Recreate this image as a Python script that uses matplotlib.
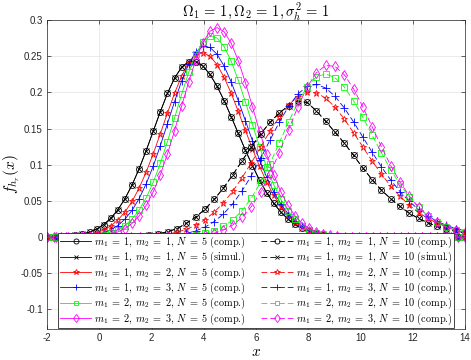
import numpy as np
import matplotlib
matplotlib.use("Agg")
import matplotlib.pyplot as plt
from matplotlib.ticker import FixedLocator, FixedFormatter

plt.rcParams["mathtext.fontset"] = "cm"
plt.rcParams["font.family"] = ["Liberation Sans", "DejaVu Sans"]

# Abtastgitter (N = 5 bzw. N = 10)
x5 = np.linspace(-2, 14, 60)
x10 = np.linspace(-2, 14, 46)

# N = 5
f5_m11 = [0.0002, 0.0004, 0.0007, 0.0014, 0.0024, 0.0042, 0.0069, 0.0111, 0.0173, 0.0260,
          0.0377, 0.0530, 0.0719, 0.0943, 0.1196, 0.1465, 0.1734, 0.1986, 0.2196, 0.2348,
          0.2426, 0.2426, 0.2365, 0.2248, 0.2085, 0.1886, 0.1664, 0.1432, 0.1202, 0.0986,
          0.0787, 0.0613, 0.0466, 0.0346, 0.0250, 0.0176, 0.0121, 0.0081, 0.0053, 0.0034,
          0.0021, 0.0013, 0.0008, 0.0004, 0.0002, 0.0001, 0, 0, 0, 0,
          0, 0, 0, 0, 0, 0, 0, 0, 0, 0]
f5_m12 = [0.0001, 0.0002, 0.0003, 0.0006, 0.0011, 0.0021, 0.0036, 0.0060, 0.0098, 0.0155,
          0.0236, 0.0347, 0.0492, 0.0677, 0.0899, 0.1153, 0.1430, 0.1714, 0.1986, 0.2225,
          0.2409, 0.2520, 0.2549, 0.2501, 0.2383, 0.2207, 0.1986, 0.1737, 0.1476, 0.1219,
          0.0977, 0.0762, 0.0577, 0.0425, 0.0304, 0.0211, 0.0143, 0.0094, 0.0060, 0.0037,
          0.0022, 0.0013, 0.0007, 0.0004, 0.0002, 0.0001, 0, 0, 0, 0,
          0, 0, 0, 0, 0, 0, 0, 0, 0, 0]
f5_m13 = [0.0000, 0.0001, 0.0001, 0.0003, 0.0005, 0.0010, 0.0019, 0.0035, 0.0060, 0.0100,
          0.0160, 0.0248, 0.0369, 0.0531, 0.0736, 0.0983, 0.1264, 0.1567, 0.1872, 0.2156,
          0.2392, 0.2558, 0.2635, 0.2621, 0.2527, 0.2363, 0.2143, 0.1885, 0.1609, 0.1331,
          0.1067, 0.0831, 0.0627, 0.0459, 0.0326, 0.0224, 0.0150, 0.0097, 0.0061, 0.0037,
          0.0022, 0.0013, 0.0007, 0.0004, 0.0002, 0.0001, 0, 0, 0, 0,
          0, 0, 0, 0, 0, 0, 0, 0, 0, 0]
f5_m22 = [0.0000, 0.0000, 0.0000, 0.0001, 0.0002, 0.0005, 0.0009, 0.0018, 0.0033, 0.0057,
          0.0097, 0.0158, 0.0248, 0.0373, 0.0543, 0.0759, 0.1020, 0.1321, 0.1645, 0.1973,
          0.2276, 0.2527, 0.2700, 0.2777, 0.2752, 0.2632, 0.2431, 0.2169, 0.1868, 0.1554,
          0.1247, 0.0967, 0.0724, 0.0524, 0.0366, 0.0246, 0.0160, 0.0101, 0.0061, 0.0036,
          0.0020, 0.0011, 0.0006, 0.0003, 0.0001, 0, 0, 0, 0, 0,
          0, 0, 0, 0, 0, 0, 0, 0, 0, 0]
f5_m23 = [0.0000, 0.0000, 0.0000, 0.0001, 0.0001, 0.0003, 0.0006, 0.0012, 0.0023, 0.0041,
          0.0071, 0.0118, 0.0189, 0.0293, 0.0437, 0.0626, 0.0864, 0.1148, 0.1469, 0.1810,
          0.2146, 0.2448, 0.2689, 0.2844, 0.2895, 0.2838, 0.2679, 0.2437, 0.2135, 0.1801,
          0.1463, 0.1145, 0.0863, 0.0627, 0.0439, 0.0295, 0.0191, 0.0120, 0.0072, 0.0042,
          0.0023, 0.0013, 0.0006, 0.0003, 0.0001, 0, 0, 0, 0, 0,
          0, 0, 0, 0, 0, 0, 0, 0, 0, 0]

# N = 10
f10_m11 = [0, 0, 0, 0, 0, 0.0001, 0.0002, 0.0003, 0.0006, 0.0011,
           0.0018, 0.0029, 0.0046, 0.0075, 0.0117, 0.0190, 0.0275, 0.0385, 0.0520, 0.0680,
           0.0860, 0.1055, 0.1245, 0.1425, 0.1585, 0.1715, 0.1815, 0.1880, 0.1860, 0.1745,
           0.1600, 0.1450, 0.1300, 0.1130, 0.0955, 0.0795, 0.0650, 0.0530, 0.0425, 0.0330,
           0.0258, 0.0198, 0.0148, 0.0108, 0.0078, 0.0056]
f10_m12 = [0, 0, 0, 0, 0, 0, 0.0001, 0.0001, 0.0002, 0.0004,
           0.0008, 0.0014, 0.0025, 0.0042, 0.0068, 0.0107, 0.0163, 0.0241, 0.0344, 0.0475,
           0.0634, 0.0821, 0.1028, 0.1246, 0.1462, 0.1660, 0.1825, 0.1942, 0.2000, 0.1993,
           0.1921, 0.1797, 0.1632, 0.1443, 0.1246, 0.1052, 0.0870, 0.0705, 0.0562, 0.0441,
           0.0341, 0.0259, 0.0195, 0.0145, 0.0106, 0.0077]
f10_m13 = [0, 0, 0, 0, 0, 0, 0, 0, 0, 0.0001,
           0.0002, 0.0004, 0.0008, 0.0016, 0.0029, 0.0051, 0.0085, 0.0138, 0.0214, 0.0321,
           0.0461, 0.0639, 0.0849, 0.1088, 0.1339, 0.1585, 0.1805, 0.1977, 0.2082, 0.2110,
           0.2060, 0.1947, 0.1785, 0.1592, 0.1382, 0.1173, 0.0972, 0.0789, 0.0630, 0.0494,
           0.0381, 0.0290, 0.0218, 0.0162, 0.0118, 0.0086]
f10_m22 = [0, 0, 0, 0, 0, 0, 0, 0, 0, 0,
           0, 0.0001, 0.0001, 0.0003, 0.0007, 0.0014, 0.0027, 0.0050, 0.0088, 0.0148,
           0.0238, 0.0367, 0.0539, 0.0758, 0.1015, 0.1301, 0.1590, 0.1861, 0.2077, 0.2214,
           0.2255, 0.2203, 0.2074, 0.1885, 0.1657, 0.1410, 0.1164, 0.0932, 0.0728, 0.0552,
           0.0409, 0.0295, 0.0209, 0.0144, 0.0097, 0.0065]
f10_m23 = [0, 0, 0, 0, 0, 0, 0, 0, 0, 0,
           0, 0, 0.0001, 0.0001, 0.0003, 0.0007, 0.0015, 0.0029, 0.0054, 0.0098,
           0.0167, 0.0272, 0.0421, 0.0621, 0.0872, 0.1167, 0.1483, 0.1797, 0.2071, 0.2271,
           0.2372, 0.2359, 0.2245, 0.2050, 0.1800, 0.1525, 0.1248, 0.0989, 0.0762, 0.0569,
           0.0415, 0.0295, 0.0205, 0.0139, 0.0093, 0.0061]

m_pairs = [(1, 1), (1, 1), (1, 2), (1, 3), (2, 2), (2, 3)]
kinds = ["comp.", "simul.", "comp.", "comp.", "comp.", "comp."]
series5 = [f5_m11, f5_m11, f5_m12, f5_m13, f5_m22, f5_m23]
series10 = [f10_m11, f10_m11, f10_m12, f10_m13, f10_m22, f10_m23]

colors = ["k", "k", "#ff0000", "#0000ff", "#00ff00", "#ff00ff"]
markers = ["o", "x", "*", "+", "s", "d"]
msizes = [4.3, 4.0, 5.0, 5.5, 3.8, 5.0]

xticks = [-2, 0, 2, 4, 6, 8, 10, 12, 14]
yticks = [-0.1, -0.05, 0, 0.05, 0.1, 0.15, 0.2, 0.25, 0.3]
yticklabels = ["-0.1", "-0.05", "0", "0.05", "0.1", "0.15", "0.2", "0.25", "0.3"]

fig = plt.figure(figsize=(4.71, 3.6), dpi=100)
ax = fig.add_axes([47 / 471, 1 - 329 / 360, 418 / 471, 309 / 360])

handles5, handles10, labels5, labels10 = [], [], [], []
for N, xs, series, hl, ll in [(5, x5, series5, handles5, labels5),
                              (10, x10, series10, handles10, labels10)]:
    for (m1, m2), kind, y, c, mk, ms in zip(m_pairs, kinds, series, colors, markers, msizes):
        ls = "-" if N == 5 else (0, (7, 3.5))
        h, = ax.plot(xs, y, color=c, linestyle=ls, linewidth=0.6,
                     marker=mk, markersize=ms, markerfacecolor="none",
                     markeredgewidth=0.6)
        hl.append(h)
        ll.append(r"$m_1\;=\;%d$, $m_2\;=\;%d$, $N\;=\;%d$ (%s)" % (m1, m2, N, kind))

ax.set_xlim(-2, 14)
ax.set_ylim(-0.127, 0.3)
ax.xaxis.set_major_locator(FixedLocator(xticks))
ax.xaxis.set_major_formatter(FixedFormatter([str(t) for t in xticks]))
ax.yaxis.set_major_locator(FixedLocator(yticks))
ax.yaxis.set_major_formatter(FixedFormatter(yticklabels))
ax.grid(True, color="#e3e3e3", linewidth=0.5)
ax.set_axisbelow(True)
ax.tick_params(direction="in", top=True, right=True, length=3, width=0.5,
               labelsize=7, colors="#262626", pad=3)
for s in ax.spines.values():
    s.set_color("#262626")
    s.set_linewidth(0.5)

ax.set_xlabel(r"$x$", fontsize=11, labelpad=1)
ax.set_ylabel(r"$f_{h_r}(x)$", fontsize=11)
ax.yaxis.set_label_coords(-0.06, 0.5)
ax.set_title(r"$\Omega_1\,=\,1, \Omega_2\,=\,1, \sigma_h^2\,=\,1$", fontsize=10.5, pad=2)

leg = ax.legend(handles5 + handles10, labels5 + labels10, ncol=2, loc="lower center",
                prop={"family": "cmr10", "size": 7.4},
                fancybox=False, framealpha=1, edgecolor="#262626",
                handlelength=3.1, handletextpad=0.25, columnspacing=1.5,
                labelspacing=0.0, borderpad=0.12, borderaxespad=0.1, markerscale=0.85)
leg.get_frame().set_linewidth(0.6)

fig.savefig("out.png", dpi=100)
